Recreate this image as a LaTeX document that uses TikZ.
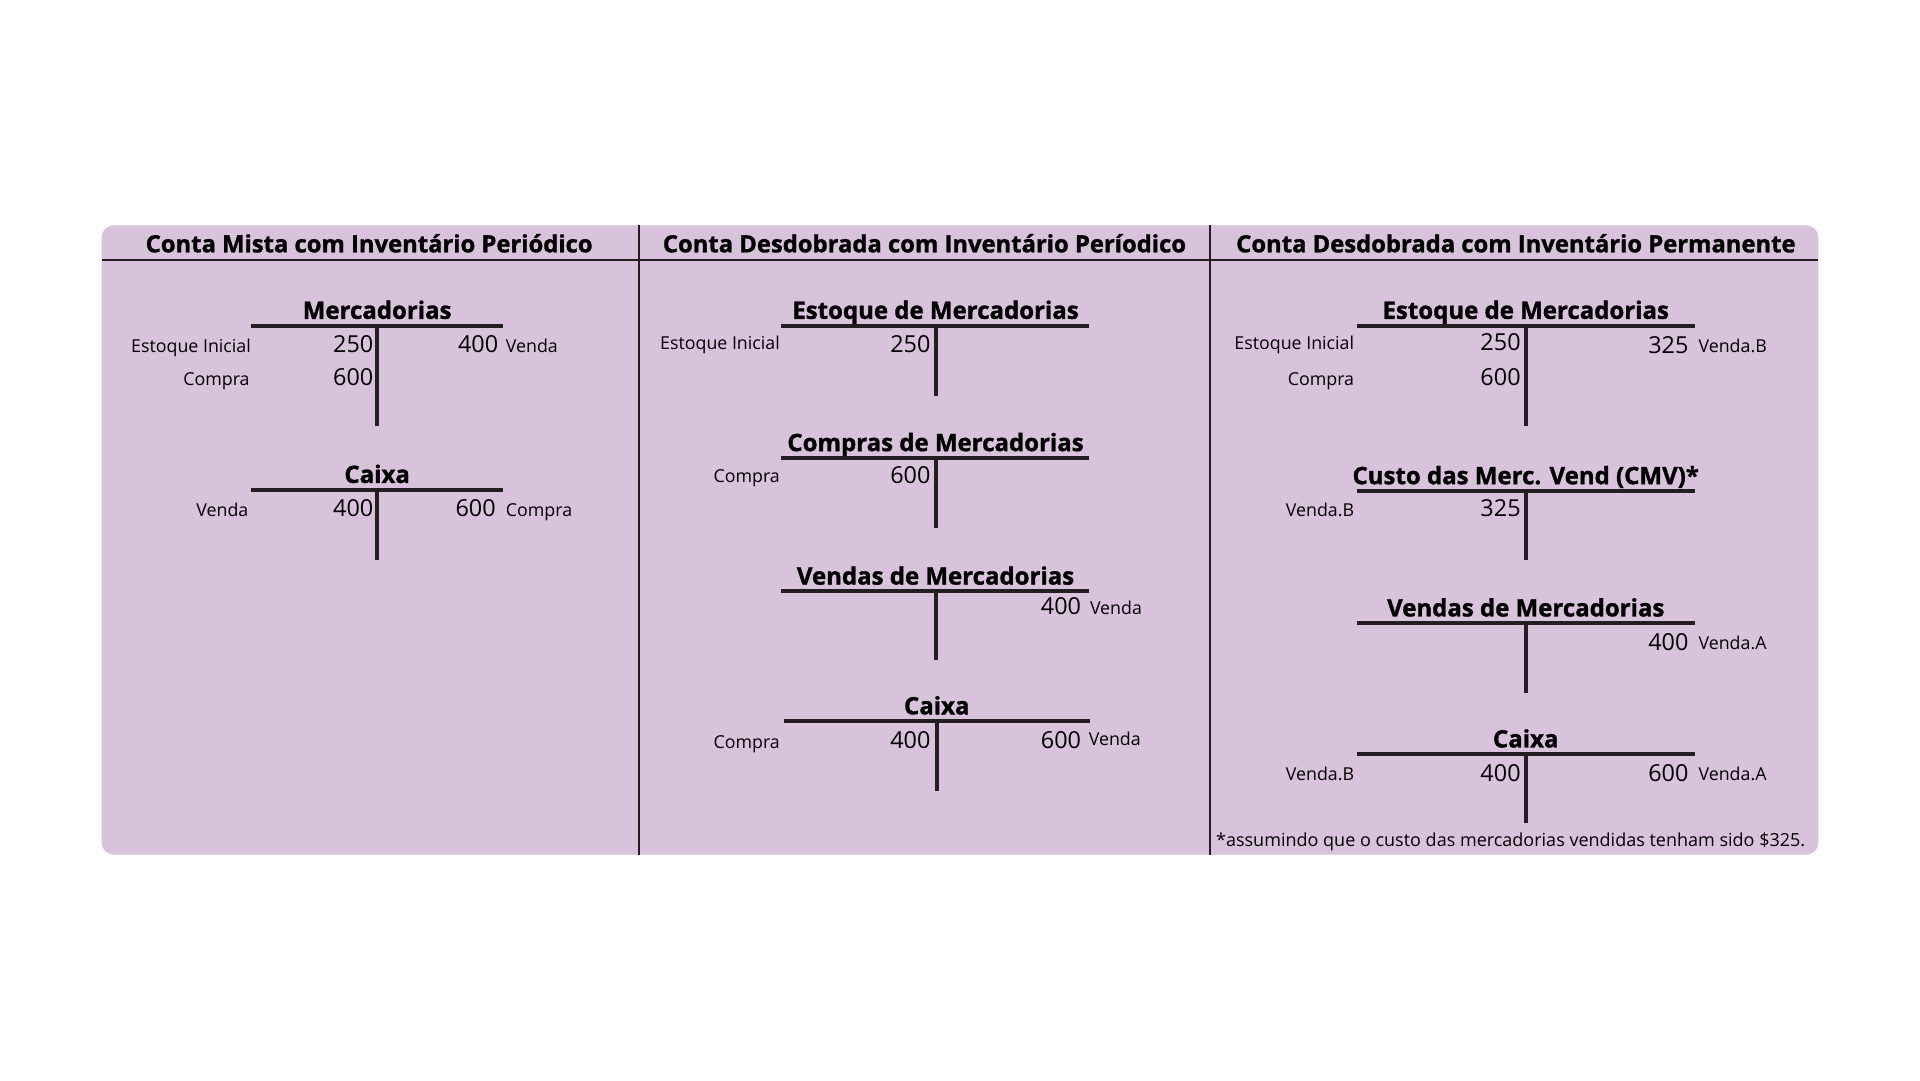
\documentclass[tikz,border=0pt]{standalone}
\usepackage{fontspec}
\setmainfont{Open Sans}[BoldFeatures={FakeBold=1.2}]
\definecolor{panel}{HTML}{D9C2DC}
\definecolor{tcol}{HTML}{231F20}
\newcommand\TAcc[7]{%
  \node[ttl] (#1t) at (#3,#5-13.5) {#7};
  \coordinate (#1l) at (#2,#5);
  \coordinate (#1r) at (#4,#5);
  \coordinate (#1c) at (#3,#5);
  \coordinate (#1b) at (#3,#6);
  \draw[tline] (#1l) -- (#1r);
  \draw[tline] (#1c) -- (#1b);}
\begin{document}
\begin{tikzpicture}[x=1.2245pt,y=-1.2245pt,
  hdr/.style={font=\fontsize{23.8}{28}\selectfont\bfseries, inner sep=0pt, anchor=mid, text=black, yshift=-6pt},
  ttl/.style={font=\fontsize{24}{28}\selectfont\bfseries, inner sep=0pt, anchor=mid, text=black, yshift=-7pt},
  num/.style={font=\fontsize{23.4}{28}\selectfont, inner sep=0pt, anchor=mid east, text=black, yshift=-6pt},
  lbl/.style={font=\fontsize{17.8}{21}\selectfont, inner sep=0pt, text=black, yshift=-3.5pt},
  lbe/.style={lbl, anchor=mid east},
  lbw/.style={lbl, anchor=mid west},
  tline/.style={line width=4pt, draw=tcol},
  divline/.style={line width=2pt, draw=tcol}]
\useasboundingbox (0,0) rectangle (1568,882);
\fill[white] (0,0) rectangle (1568,882);
\fill[panel, rounded corners=12pt] (83,184) rectangle (1485,698);
\coordinate (hl) at (83,212); \coordinate (hr) at (1485,212);
\coordinate (d1t) at (522,184); \coordinate (d1b) at (522,698);
\coordinate (d2t) at (988,184); \coordinate (d2b) at (988,698);
\draw[divline] (hl) -- (hr);
\draw[divline] (d1t) -- (d1b);
\draw[divline] (d2t) -- (d2b);
\node[hdr] (h1) at (301.5,199) {Conta Mista com Inventário Periódico};
\node[hdr] (h2) at (755,199) {Conta Desdobrada com Inventário Períodico};
\node[hdr] (h3) at (1238,199) {Conta Desdobrada com Inventário Permanente};
% column 1
\TAcc{ma}{205}{308}{411}{266}{348}{Mercadorias}
\node[lbe] (ma1) at (205,283) {Estoque Inicial};
\node[num] (ma2) at (305,281) {250};
\node[num] (ma3) at (407,281) {400};
\node[lbw] (ma4) at (413,283) {Venda};
\node[lbe] (ma5) at (204,310) {Compra};
\node[num] (ma6) at (305,308) {600};
\TAcc{ca}{205}{308}{411}{400}{457}{Caixa}
\node[lbe] (ca1) at (203,417) {Venda};
\node[num] (ca2) at (305,415) {400};
\node[num] (ca3) at (405,415) {600};
\node[lbw] (ca4) at (413,417) {Compra};
% column 2
\TAcc{eb}{638}{764}{889}{266}{323}{Estoque de Mercadorias}
\node[lbe] (eb1) at (637,280) {Estoque Inicial};
\node[num] (eb2) at (760,281) {250};
\TAcc{cb}{638}{764}{889}{374}{431}{Compras de Mercadorias}
\node[lbe] (cb1) at (637,389) {Compra};
\node[num] (cb2) at (760,388) {600};
\TAcc{vb}{638}{764}{889}{483}{539}{Vendas de Mercadorias}
\node[num] (vb1) at (883,495) {400};
\node[lbw] (vb2) at (890,497) {Venda};
\TAcc{xb}{640}{765}{890}{589}{646}{Caixa}
\node[lbe] (xb1) at (637,606) {Compra};
\node[num] (xb2) at (760,604) {400};
\node[num] (xb3) at (883,604) {600};
\node[lbw] (xb4) at (889,604) {Venda};
% column 3
\TAcc{ec}{1108}{1246}{1384}{266}{348}{Estoque de Mercadorias}
\node[lbe] (ec1) at (1106,280) {Estoque Inicial};
\node[num] (ec2) at (1242,279) {250};
\node[num] (ec3) at (1379,282) {325};
\node[lbw] (ec4) at (1387,283) {Venda.B};
\node[lbe] (ec5) at (1106,310) {Compra};
\node[num] (ec6) at (1242,308) {600};
\TAcc{mc}{1108}{1246}{1384}{401}{457}{Custo das Merc. Vend (CMV)*}
\node[lbe] (mc1) at (1106,417) {Venda.B};
\node[num] (mc2) at (1242,415) {325};
\TAcc{vc}{1108}{1246}{1384}{509}{566}{Vendas de Mercadorias}
\node[num] (vc1) at (1379,524) {400};
\node[lbw] (vc2) at (1387,525) {Venda.A};
\TAcc{xc}{1108}{1246}{1384}{616}{672}{Caixa}
\node[lbe] (xc1) at (1106,632) {Venda.B};
\node[num] (xc2) at (1242,631) {400};
\node[num] (xc3) at (1379,631) {600};
\node[lbw] (xc4) at (1387,632) {Venda.A};
\node[lbw, font=\fontsize{18}{21}\selectfont] (fn) at (993,686) {*assumindo que o custo das mercadorias vendidas tenham sido \$325.};
\end{tikzpicture}
\end{document}
